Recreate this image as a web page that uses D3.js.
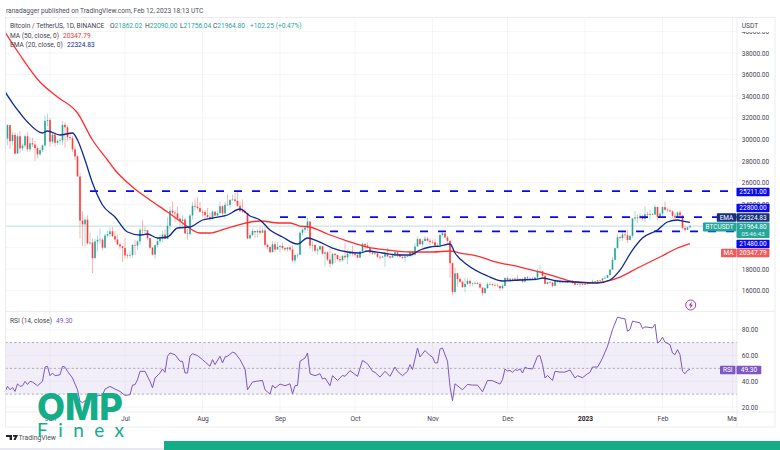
<!DOCTYPE html>
<html><head><meta charset="utf-8">
<script src="https://cdn.jsdelivr.net/npm/d3@7/dist/d3.min.js"></script>
<style>html,body{margin:0;padding:0;background:#fff}svg{display:block}text{font-family:Roboto,sans-serif}</style>
</head><body><svg id="c" width="780" height="450"></svg>
<script>
const startDate = "2022-05-14";
const firstOpen = 29030;
const closes = [
30080,31320,29830,30420,28680,30290,29170,29430,30290,29090,29640,29530,29190,28620,29010,29440,31720,31790,
29790,30440,29690,29860,29900,31350,31120,30200,30110,29080,28420,26570,22480,22130,22570,20380,20450,19000,20550,20700,20720,19970,21100,21230,21490,21040,20730,20280,20100,19940,
19260,19240,19300,20230,20170,20550,21630,21590,21590,20860,19970,19330,20210,20580,20830,21190,20780,22000,23390,23220,23150,22680,22450,22580,21300,21240,22950,23850,23770,23640,23290,
23270,22990,22820,22620,23310,22950,23170,23810,23150,23950,23930,24400,24440,24300,23850,23340,23330,23200,20830,21140,21520,21400,21530,21360,21570,20240,20030,19550,20290,19800,20050,
20130,19950,19830,20000,19800,18790,19290,19320,21360,21650,21830,22400,20170,20220,19700,19800,20110,19420,19540,18870,18480,19400,19290,18920,18800,19220,19080,19410,19590,19420,
19310,19050,19620,20330,20160,19950,19530,19420,19440,19130,19060,19150,19370,19170,19060,19260,19550,19330,19120,19040,19160,19200,19570,19330,20080,20770,20290,20590,20820,20620,20490,
20480,20150,20200,21150,21300,20920,20600,18540,15880,17600,17070,16810,16330,16620,16900,16660,16690,16700,16630,16280,15780,16230,16600,16600,16520,16460,16430,16220,16440,17160,
16980,17090,16890,17110,16970,17090,16840,17230,17130,17130,17080,17210,17780,17810,17360,16630,16780,16740,16440,16900,16820,16830,16780,16830,16830,16920,16710,16550,16630,16600,16540,
16620,16680,16670,16850,16830,16950,16940,17120,17180,17440,17940,18850,19930,20950,20870,21190,21130,20680,21070,22670,22780,22710,22920,22630,23060,23010,23080,23030,23740,22830,23130,
23730,23490,23430,23330,22930,22760,23240,22960,21800,21630,21860,21964.8];
const highs = [
30340,31420,31300,30700,30660,30540,30770,29600,30440,30670,30200,30150,29850,29380,29250,29530,32220,32400,
31980,30630,30670,30000,30150,31700,31550,31320,30670,30330,29440,28550,26900,23340,22800,22970,21360,20800,20800,21100,21720,20860,21230,21530,21870,21880,21500,21180,20440,20140,
20870,19430,19640,20350,20730,20670,21840,22500,21950,21600,20870,20040,20260,20880,21200,21560,21680,22780,23800,24280,23440,23750,22650,22990,22700,21700,23100,24200,24450,24670,24200,
23510,23460,23650,23230,23460,23350,23400,24240,23920,24230,24920,24450,24890,25050,25210,24230,24450,23600,23200,21380,21800,21520,21680,21900,21820,21890,20340,20140,20580,20550,20480,
20200,20440,20000,20030,20160,20180,19460,19450,21500,21800,21860,22800,22410,20550,20330,19950,20190,20100,19690,19630,19950,19500,19500,19320,19180,19310,20370,19790,19640,20180,
19480,19400,19720,20470,20360,20450,20050,19620,19560,19520,19270,19210,19510,19950,19210,19420,19680,19700,19360,19340,19250,19260,19700,19600,20400,21020,20870,20750,21080,20930,20840,
20700,20800,20390,21300,21480,21350,21050,20670,18590,18140,17660,17160,16930,17190,17130,17000,16750,16870,16820,16750,16260,16300,16770,16810,16660,16690,16670,16480,16640,17250,
17320,17200,17160,17200,17430,17110,17140,17300,17350,17230,17270,17240,18000,18390,17850,17530,16800,16870,16820,17060,16920,16870,16820,16860,16890,16970,16950,16790,16660,16640,16630,
16630,16760,16780,17020,16870,16990,16970,17180,17390,17490,18000,19120,19970,21260,21050,21460,21440,21650,21180,22750,23370,23080,23170,23000,23820,23290,23500,23170,23960,23780,23320,
23810,24250,23680,23580,23430,23160,23350,23450,23000,21950,21900,22090];
const lows = [
28700,29480,29090,29460,28650,28720,28730,28950,29240,28860,28830,29300,28020,28260,28450,28820,29300,31200,
29320,29590,29340,29480,29500,29500,29200,29850,29950,28850,28100,26560,20850,20110,20070,20230,20230,17620,19000,19640,20340,19770,19890,20940,21000,20950,20500,20200,19850,18630,
18970,18980,19000,19050,19300,19780,20250,21190,21300,20650,19880,19250,18920,20000,20380,20490,20760,20770,21600,22900,22330,22500,21860,22000,21260,20710,21040,22600,23400,23500,23220,
22850,22660,22680,22440,22590,22850,22850,23150,22880,22660,23850,23620,24290,24150,23770,23680,23200,23150,20770,20760,21050,20890,20890,21160,21320,20110,19800,19520,19550,19530,19900,
19560,19750,19650,19600,19630,18640,18510,19000,19280,21100,21350,21550,19860,19620,19500,19320,19700,19330,18230,18740,18130,18370,18560,18820,18620,18680,18820,18470,19150,19180,
19150,19000,19030,19500,19730,19870,19340,19320,19310,19020,18860,19020,18190,19070,18950,19060,19150,19100,19070,18900,18650,19110,19070,19160,19240,20050,20200,20000,20560,20530,20240,
20350,20050,20050,20170,21080,20880,20390,17170,15590,15750,16360,16700,16230,15820,16530,16360,16400,16550,16570,16180,15480,15700,16150,16460,16390,16420,16400,15990,16100,16430,
16850,16790,16860,16880,16870,16910,16680,16730,17070,17090,17070,16870,17080,17660,17280,16590,16580,16670,16300,16400,16740,16580,16740,16790,16710,16800,16590,16480,16490,16330,16470,
16500,16550,16650,16650,16750,16670,16910,16910,17110,17150,17320,17900,18710,19880,20550,20610,20850,20400,20660,20880,22400,22290,22520,22480,22350,22850,22530,22980,23010,22500,22720,
22760,23360,23250,23260,22750,22630,22750,22690,21690,21450,21600,21756];

// Day numbers count from 1 June 2022.
const emaDays = [-18,-15,-12,-9,-3,-1,4,9,11,14,17,21,26,31,36,39,43,47,51,56,61,65,71,76,80,84,88,93,99,103,107,113,119,124,127,133,140,144,148,152,156,160,162,167,175,181,188,195,197,203,211,219,224,228,233,237,243,247,251,253,256];
const emaVals = [34416,33370,32444,31611,30592,30777,30407,30592,29944,28092,25962,23925,22814,21425,21147,21239,20870,20962,21795,21888,22536,22721,23000,23555,22906,22536,21610,20962,20313,20870,20590,19943,19573,19480,19665,19480,19295,19295,19758,20036,20128,20313,19480,18370,17350,16887,16980,17072,17165,16887,16795,16700,16980,17900,19758,20870,21610,22350,22536,22443,22325];
const maDays = [-18,-12,-4,3,11,17,23,26,33,40,47,53,60,64,71,84,92,96,100,104,111,119,127,135,144,153,160,164,171,177,188,196,203,208,215,223,228,235,244,251,256];
const maVals = [39945,37815,35315,33926,32444,29944,28092,27166,25592,24388,23277,22258,21332,21332,21795,22443,22258,22258,21980,21888,21240,20591,20036,19758,19573,19573,19665,19480,19200,18740,18184,17720,17257,16887,16700,16887,17257,18090,19110,19943,20348];
const rsiDays = [-18,-17,-16,-15,-14,-13,-12,-11,-10,-9,-8,-7,-5,-3,-2,-1,0,1,2,4,5,6,7,9,11,12,13,15,17,19,21,22,24,26,28,30,32,33,34,35,36,38,40,41,42,44,45,46,47,48,50,52,53,54,55,56,57,59,61,64,65,66,68,69,70,71,73,74,76,78,79,81,83,85,86,88,89,90,92,94,96,97,98,99,100,102,103,104,106,108,109,110,112,113,115,117,118,120,123,125,127,129,130,132,134,136,138,139,141,143,144,145,147,148,150,152,153,154,155,156,157,159,160,161,162,165,167,169,171,173,175,177,180,181,182,183,184,185,186,187,188,189,190,191,193,195,196,197,198,199,201,202,204,206,208,210,211,213,215,216,217,219,220,221,223,225,227,228,230,231,232,233,236,237,238,241,242,243,244,245,246,248,249,250,251,252,253,254,255,256];
const rsiVals = [32.1,36,33.4,35.2,32.1,38,36,36.5,39.9,37.5,39.9,39.4,36.5,39.9,51,51.6,44.3,46.4,44.3,45,51.6,51,47.7,42.5,33.4,24.3,23.5,26.1,26.9,28.7,29.2,33.9,36,33.9,32.1,29,29.5,37,37.3,41.2,47.7,47.7,39.9,34.9,42.5,46.4,49.5,46.9,59.4,61.9,60.6,55.5,55.5,46.4,46.4,59.4,61.4,59.9,56.8,51.6,56.8,52.9,59.4,54.2,58.8,59.4,62.5,61.9,56.8,49.5,33.4,39.4,40.1,40.6,33.4,30,37,34.7,37.8,36.5,38,30.3,36.5,36.8,55.5,58,61.9,45.8,44.3,45.8,41.7,42.5,36.5,44.3,40.6,44.5,43.8,48.2,43.8,56.2,53.6,47.7,46.9,43.2,47.7,43.8,51,47.7,44.3,47.7,52.9,49,65.8,58.8,63.8,59.9,58.8,54.2,54.2,65,65.8,55.5,36,24.8,38,33.4,37.5,37,37,31.8,40.6,40.4,37.8,41.2,49.5,47.9,48.4,46.9,49,48.4,49.5,46.4,51,50,49.5,59.4,59.9,52.9,42.5,44.5,40.6,47.7,47.1,47.1,48.7,42.5,44.3,42.7,45.8,46.9,51,51,54.2,58,67.1,80.1,89.7,89.2,88.4,78.8,80.1,86.6,85.3,80.9,82.2,81.4,84.3,69.7,71,74.2,70.3,68.4,61.9,60.6,64.5,60.6,47.7,45.8,48.4,49.3];

const priceGrid = [16000,18000,20000,22000,24000,26000,28000,30000,32000,34000,36000,38000,40000];
const priceTicks = [16000,18000,24000,26000,28000,30000,32000,34000,36000,38000,40000];
const rsiTicks = [20,40,60,80];
const monthTicks = ["2022-06-01","2022-07-01","2022-08-01","2022-09-01","2022-10-01","2022-11-01","2022-12-01","2023-01-01","2023-02-01","2023-03-01"];
const monthLabels = ["Jun","Jul","Aug","Sep","Oct","Nov","Dec","2023","Feb","Mar"];
const levels = [25211, 22800, 21480];
const levelStartDays = [16, 92, 112];

const UP="#26a69a", DOWN="#ff3b3b", NAVY="#0b2a96", RED="#ff2e2e", BLUE="#0a0ae8", PURPLE="#7e57c2", TEAL="#26a69a";
const svg = d3.select("#c");
const base = new Date(Date.UTC(2022,5,1));
const dayDate = d => d3.utcDay.offset(base,d);
const x = d3.scaleUtc().domain([base,new Date(Date.UTC(2023,2,1))]).range([50,732.5]);
const y = d3.scaleLinear().domain([16000,38000]).range([290.6,53]);
const yr = d3.scaleLinear().domain([20,80]).range([407,329.7]);
const L=5.5,R=737,TOP=17.5,SEP=311.5,AX=412,BOT=427,FR=775;
const defs = svg.append("defs");
defs.append("clipPath").attr("id","pane").append("rect").attr("x",L).attr("y",TOP).attr("width",R-L).attr("height",SEP-TOP);
defs.append("clipPath").attr("id","xclip").append("rect").attr("x",L).attr("y",AX).attr("width",R-L).attr("height",BOT-AX);
defs.append("clipPath").attr("id","yclip").append("rect").attr("x",R).attr("y",32).attr("width",FR-R).attr("height",SEP-32);

// grid
const grid = svg.append("g").attr("stroke","#f2f3f6").attr("stroke-width",.8);
priceGrid.forEach(t=>{ if(y(t)>TOP) grid.append("line").attr("x1",L).attr("x2",R).attr("y1",y(t)).attr("y2",y(t)); });
rsiTicks.forEach(t=>grid.append("line").attr("x1",L).attr("x2",R).attr("y1",yr(t)).attr("y2",yr(t)));
monthTicks.forEach(t=>{const px=x(new Date(t)); grid.append("line").attr("x1",px).attr("x2",px).attr("y1",TOP).attr("y2",AX);});

// RSI band
svg.append("rect").attr("x",L).attr("width",R-L).attr("y",yr(70)).attr("height",yr(30)-yr(70)).attr("fill","#7e57c2").attr("opacity",.1);
[70,50,30].forEach(v=>svg.append("line").attr("x1",L).attr("x2",R).attr("y1",yr(v)).attr("y2",yr(v)).attr("stroke","#9a9aa2").attr("stroke-width",.8).attr("stroke-dasharray","2.2 2.2"));

// current price line
svg.append("line").attr("x1",L).attr("x2",R).attr("y1",y(closes[closes.length-1])).attr("y2",y(closes[closes.length-1])).attr("stroke","#26a69a").attr("stroke-opacity",.3).attr("stroke-width",.9);

// candles
const cg = svg.append("g").attr("clip-path","url(#pane)");
const candles = closes.map((c,i)=>({d:d3.utcDay.offset(new Date(startDate),i),o:i?closes[i-1]:firstOpen,c,h:highs[i],l:lows[i]}));
cg.selectAll(".w").data(candles).join("line").attr("x1",d=>x(d.d)).attr("x2",d=>x(d.d)).attr("y1",d=>y(d.h)).attr("y2",d=>y(d.l))
  .attr("stroke",d=>d.c>=d.o?UP:DOWN).attr("stroke-width",.7).attr("stroke-opacity",.55);
cg.selectAll(".b").data(candles).join("rect").attr("x",d=>x(d.d)-.8).attr("width",1.6)
  .attr("y",d=>y(Math.max(d.o,d.c))).attr("height",d=>Math.max(.6,Math.abs(y(d.o)-y(d.c))))
  .attr("fill",d=>d.c>=d.o?UP:DOWN);

// levels
levels.forEach((v,i)=>cg.append("line").attr("x1",x(dayDate(levelStartDays[i]))).attr("x2",R).attr("y1",y(v)).attr("y2",y(v))
  .attr("stroke",BLUE).attr("stroke-width",1.8).attr("stroke-dasharray","8 10"));

// MA lines
const ln = d3.line().curve(d3.curveMonotoneX);
const pts=(ds,vs,sc)=>ds.map((d,i)=>[x(dayDate(d)),sc(vs[i])]);
cg.append("path").attr("d",ln(pts(maDays,maVals,y))).attr("fill","none").attr("stroke",RED).attr("stroke-width",1.3);
cg.append("path").attr("d",ln(pts(emaDays,emaVals,y))).attr("fill","none").attr("stroke",NAVY).attr("stroke-width",1.3);

// RSI line
svg.append("path").attr("d",d3.line()(pts(rsiDays,rsiVals,yr))).attr("fill","none").attr("stroke",PURPLE).attr("stroke-width",1);

// frame
const fr = svg.append("g").attr("stroke","#e6e8ee").attr("stroke-width",.8).attr("fill","none");
fr.append("rect").attr("x",L).attr("y",TOP).attr("width",FR-L).attr("height",BOT-TOP);
fr.append("line").attr("x1",R).attr("x2",R).attr("y1",TOP).attr("y2",BOT);
fr.append("line").attr("x1",L).attr("x2",FR).attr("y1",SEP).attr("y2",SEP);
fr.append("line").attr("x1",L).attr("x2",FR).attr("y1",AX).attr("y2",AX);

// axes
function styleAxis(g,size){g.select(".domain").remove();g.selectAll("line").remove();g.selectAll("text").attr("fill","#3f4350").style("font-size",size+"px").style("font-family","Roboto,sans-serif");}
svg.append("g").attr("clip-path","url(#yclip)").append("g").attr("transform","translate(741.8,0)")
  .call(d3.axisRight(y).tickValues(priceTicks).tickFormat(d3.format(".2f")).tickSize(0).tickPadding(0)).call(styleAxis,6.5);
svg.append("g").attr("transform","translate(741.8,0)")
  .call(d3.axisRight(yr).tickValues(rsiTicks).tickFormat(d3.format(".2f")).tickSize(0).tickPadding(0)).call(styleAxis,6.5);
const xA = svg.append("g").attr("clip-path","url(#xclip)").append("g").attr("transform","translate(0,413.5)")
  .call(d3.axisBottom(x).tickValues(monthTicks.map(d=>new Date(d))).tickFormat((d,i)=>monthLabels[i]).tickSize(0).tickPadding(3)).call(styleAxis,6.6);
xA.selectAll("text").filter((d,i)=>monthLabels[i]==="2023").attr("fill","#1a1c22").style("font-weight","700");
svg.append("text").attr("x",741.8).attr("y",27.5).attr("font-size",6.6).attr("fill","#3f4350").text("USDT");

// tags
function box(x0,yc,w,h,fill,txt,tc,op){
  svg.append("rect").attr("x",x0).attr("y",yc-h/2).attr("width",w).attr("height",h).attr("rx",.8).attr("fill",fill).attr("opacity",op||1);
  svg.append("text").attr("x",x0+w/2).attr("y",yc+2.4).attr("text-anchor","middle").attr("font-size",6.5).attr("fill",tc||"#fff").text(txt);
}
box(736.5,192,33,8.4,BLUE,"25211.00");
box(736.5,208,33,8.6,BLUE,"22800.00");
box(716.8,217.5,19.4,8.6,"#16307f","EMA");
box(736.5,217.5,33,8.6,"#16307f","22324.83");
box(703,227,33.2,9,TEAL,"BTCUSDT");
svg.append("rect").attr("x",736.5).attr("y",222.4).attr("width",33).attr("height",15.6).attr("rx",.8).attr("fill",TEAL);
svg.append("text").attr("x",753).attr("y",229.3).attr("text-anchor","middle").attr("font-size",6.5).attr("fill","#fff").text("21964.80");
svg.append("text").attr("x",753).attr("y",236.2).attr("text-anchor","middle").attr("font-size",6).attr("fill","#e2f4f2").text("05:46:43");
box(736.5,244,33,8.4,BLUE,"21480.00");
box(721,253,15.2,8.4,"#f55a5a","MA");
box(736.5,253,33,8.4,"#f55a5a","20347.79");
box(720,370,15.4,8.4,PURPLE,"RSI");
box(736.5,370,24.8,8.4,PURPLE,"49.30");

// header text
const FS=6.6;
svg.append("text").attr("x",6).attr("y",13.4).attr("font-size",FS).attr("fill","#4a4e5a").text("ranadagger published on TradingView.com, Feb 12, 2023 18:13 UTC");
const leg = svg.append("text").attr("y",28.3).attr("font-size",FS).attr("fill","#3f4350");
[["Bitcoin / TetherUS, 1D, BINANCE",0,10],["O",0,110],["21862.02",1],["H",0,145],["22090.00",1],["L",0,180],["21756.04",1],["C",0,213],["21964.80",1],["+102.25 (+0.47%)",1,250]]
 .forEach(p=>{const s=leg.append("tspan").attr("fill",p[1]?"#26a69a":"#3f4350").text(p[0]); if(p[2]!==undefined) s.attr("x",p[2]);});
const m1=svg.append("text").attr("x",10).attr("y",37.5).attr("font-size",FS).attr("fill","#3f4350").text("MA (50, close, 0)");
m1.append("tspan").attr("x",63).attr("fill",RED).text("20347.79");
const m2=svg.append("text").attr("x",10).attr("y",46.8).attr("font-size",FS).attr("fill","#3f4350").text("EMA (20, close, 0)");
m2.append("tspan").attr("x",67).attr("fill",NAVY).text("22324.83");
const m3=svg.append("text").attr("x",10).attr("y",323).attr("font-size",FS).attr("fill","#3f4350").text("RSI (14, close)");
m3.append("tspan").attr("x",56).attr("fill",PURPLE).text("49.30");

// lightning icon
svg.append("circle").attr("cx",690.7).attr("cy",305).attr("r",5).attr("fill","#fff").attr("stroke","#9c27b0").attr("stroke-width",.9);
svg.append("path").attr("d","M692 301.5l-3.2 4h2l-1 3.2 3.2-4h-2z").attr("fill","#9c27b0");

// TradingView mark
svg.append("path").attr("d","M6 435h6v5h-2.4v-3h-3.6zM13 435h5l-2.4 5h-2.2l1.6-3.2h-2z").attr("fill","#1e222d");
svg.append("text").attr("x",18.5).attr("y",440).attr("font-size",6.8).attr("fill","#4a4e5a").text("TradingView");

// bottom bars
svg.append("rect").attr("x",0).attr("y",448).attr("width",164).attr("height",2).attr("fill","#e8e8f0");
svg.append("rect").attr("x",164).attr("y",441).attr("width",616).attr("height",9).attr("fill","#14ad87");

// logo
svg.append("text").attr("x",37).attr("y",420).style("font-family","Inter,Lato,sans-serif").attr("font-weight",800).attr("font-size",37).attr("textLength",86).attr("lengthAdjust","spacingAndGlyphs").attr("fill","#14ad87").text("OMP");
svg.append("text").attr("x",37).attr("y",437).style("font-family","Lato,sans-serif").attr("font-size",19).attr("textLength",87).attr("fill","#14ad87").text("Finex");
</script></body></html>
